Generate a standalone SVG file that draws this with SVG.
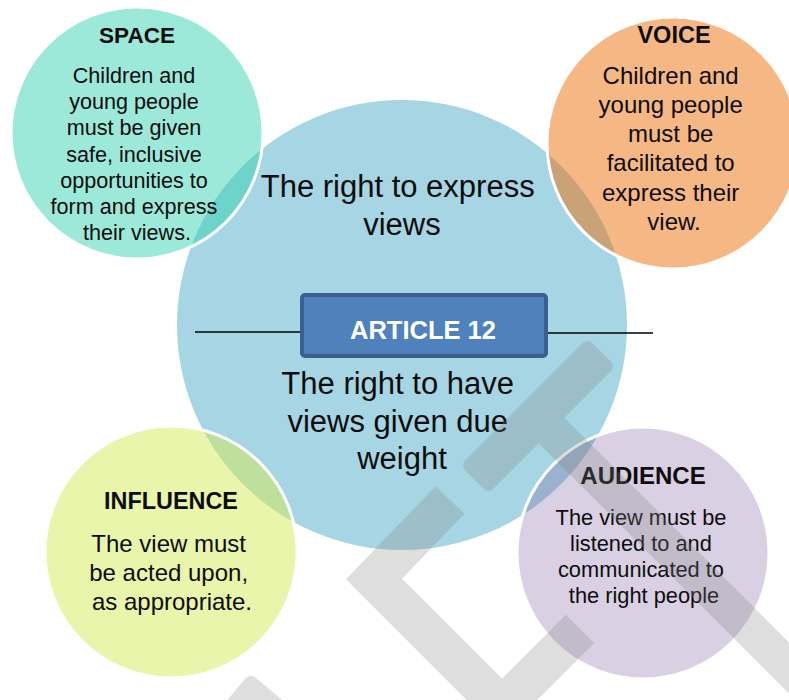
<svg xmlns="http://www.w3.org/2000/svg" width="789" height="700" viewBox="0 0 789 700">
<style>
.t{font-family:"Liberation Sans",Arial,sans-serif;fill:#0d0d0d;text-anchor:middle}
.h{font-weight:bold}
.ring{stroke:#ffffff;stroke-width:3}
.conn{stroke:#000000;stroke-width:1.5;fill:none}
</style>
<rect width="789" height="700" fill="#ffffff"/>
<g id="main">
<circle cx="402" cy="325" r="225" fill="#a6d5e3"/>
</g>
<g id="space">
<circle class="ring" cx="137" cy="133" r="126" fill="rgb(51,209,176)" fill-opacity="0.48"/>
<text class="t h" x="137" y="43" font-size="22.5">SPACE</text>
<text class="t" font-size="21.6">
<tspan x="137" y="83">Children and</tspan>
<tspan x="137" y="109.2">young people</tspan>
<tspan x="137" y="135.3">must be given</tspan>
<tspan x="137" y="161.5">safe, inclusive</tspan>
<tspan x="137" y="187.7">opportunities to</tspan>
<tspan x="137" y="213.8">form and express</tspan>
<tspan x="137" y="240">their views.</tspan>
</text>
</g>
<g id="voice">
<circle class="ring" cx="673" cy="143" r="126" fill="rgb(235,113,11)" fill-opacity="0.5"/>
<text class="t h" x="674" y="43" font-size="23.5">VOICE</text>
<text class="t" font-size="24">
<tspan x="674" y="83.5">Children and</tspan>
<tspan x="674" y="112.8">young people</tspan>
<tspan x="674" y="142.1">must be</tspan>
<tspan x="674" y="171.4">facilitated to</tspan>
<tspan x="674" y="200.7">express their</tspan>
<tspan x="674" y="230">view.</tspan>
</text>
</g>
<g id="influence">
<circle class="ring" cx="171" cy="552" r="126" fill="rgb(211,235,85)" fill-opacity="0.5"/>
<text class="t h" x="171" y="509" font-size="23.4">INFLUENCE</text>
<text class="t" font-size="24">
<tspan x="172" y="552">The view must</tspan>
<tspan x="172" y="581">be acted upon,</tspan>
<tspan x="172" y="610">as appropriate.</tspan>
</text>
</g>
<g id="audience">
<circle class="ring" cx="643" cy="553" r="126" fill="#8064a2" fill-opacity="0.3"/>
<text class="t h" x="643" y="484" font-size="24">AUDIENCE</text>
<text class="t" font-size="21.8">
<tspan x="644" y="525">The view must be</tspan>
<tspan x="644" y="551">listened to and</tspan>
<tspan x="644" y="577">communicated to</tspan>
<tspan x="644" y="603">the right people</tspan>
</text>
</g>
<g id="main-text">
<text class="t" font-size="31">
<tspan x="402" y="197">The right to express</tspan>
<tspan x="402" y="235">views</tspan>
</text>
<text class="t" font-size="31">
<tspan x="402" y="394">The right to have</tspan>
<tspan x="402" y="431.5">views given due</tspan>
<tspan x="402" y="469">weight</tspan>
</text>
</g>
<g id="connectors">
<line class="conn" x1="195" y1="332" x2="302" y2="332"/>
<line class="conn" x1="546" y1="333" x2="653" y2="333"/>
</g>
<g id="article12">
<rect x="302" y="295" width="244" height="61" rx="3" fill="#4f81bd" stroke="#3b5f8f" stroke-width="4"/>
<text class="t h" x="423" y="339" font-size="25.5" style="fill:#ffffff">ARTICLE 12</text>
</g>
<g id="watermark" opacity="0.26" fill="#808080">
<rect x="-90" y="-20" width="180" height="40" rx="7" transform="translate(538 416) rotate(-45)"/>
<rect x="0" y="-18" width="400" height="36" transform="translate(548 427) rotate(45)"/>
<path d="M450 500 L374 579 L502 707 L580 629" fill="none" stroke="#808080" stroke-width="40" stroke-linejoin="miter"/>
<rect x="0" y="0" width="200" height="40" rx="7" transform="translate(250 673) rotate(40)"/>
</g>
</svg>
